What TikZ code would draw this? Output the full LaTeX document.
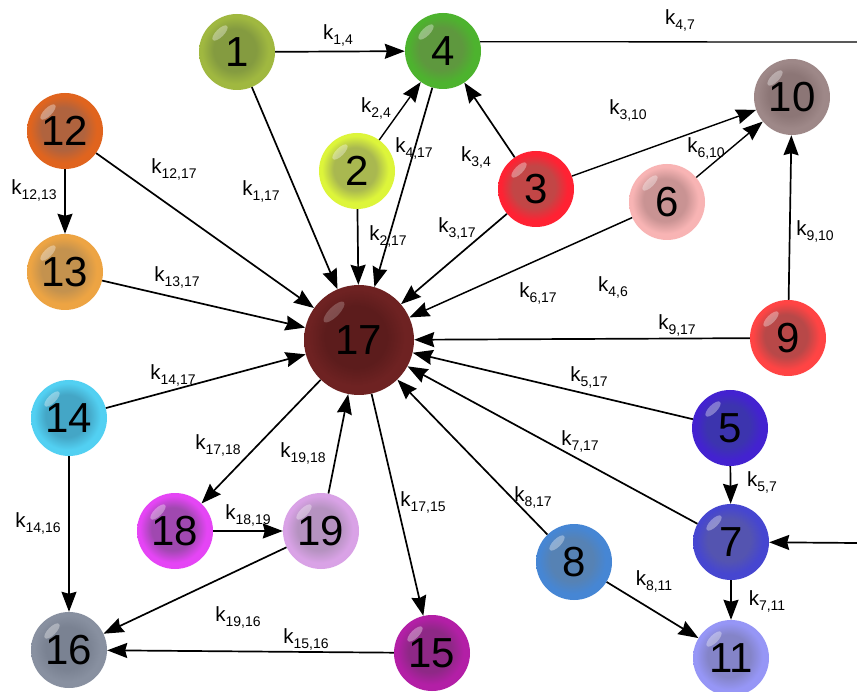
\documentclass[tikz,border=0pt]{standalone}
\usepackage{fontspec}
\setmainfont{Liberation Sans}
\usetikzlibrary{arrows.meta}
\pgfdeclareradialshading[ballin,ballout]{myball}{\pgfpoint{-2bp}{2bp}}{color(0bp)=(ballin); color(14bp)=(ballin); color(22bp)=(ballout); color(25bp)=(ballout); color(50bp)=(ballout)}
\newcommand{\ksub}[1]{k\raisebox{-5pt}{\fontsize{14}{14}\selectfont #1}}
\tikzset{
  ball/.style 2 args={circle, minimum size=76pt, inner sep=0pt, shade, shading=myball,
    /utils/exec={\definecolor{ballin}{HTML}{#1}\definecolor{ballout}{HTML}{#2}},
    font=\fontsize{42}{42}\selectfont,
    path picture={\fill[white,opacity=.35] ([xshift=-17pt,yshift=19pt]path picture bounding box.center) ellipse [x radius=10pt,y radius=4pt,rotate=45];}},
  bigball/.style 2 args={ball={#1}{#2}, minimum size=110pt,
    path picture={\fill[white,opacity=.22] ([xshift=-25pt,yshift=28pt]path picture bounding box.center) ellipse [x radius=14pt,y radius=5pt,rotate=45];}},
  lab/.style={font=\fontsize{20.5}{24}\selectfont, inner sep=0pt},
  arr/.style={-{Stealth[length=20pt,width=15pt,inset=2pt]}, line width=1.7pt},
  plain/.style={line width=1.3pt},
}
\begin{document}
\begin{tikzpicture}[x=1pt,y=1pt]
\fill[white] (0,0) rectangle (857,-692);
\useasboundingbox (0,0) rectangle (857,-692);
% nodes
\node[ball={849B40}{A0B840}] (1) at (237,-52) {1};
\node[ball={5E983E}{4DB32E}] (4) at (443,-51) {4};
\node[ball={A9B850}{DDF53A}] (2) at (357,-171) {2};
\node[ball={C24646}{FF2233}] (3) at (536,-189) {3};
\node[ball={8C7676}{9E8888}] (10) at (792,-97) {10};
\node[ball={C99393}{F8B4B4}] (6) at (667,-202) {6};
\node[ball={B84848}{FF4444}] (9) at (788,-338) {9};
\node[ball={B0633E}{E0641E}] (12) at (65,-131) {12};
\node[ball={C4924E}{EDA443}] (13) at (65,-272) {13};
\node[bigball={5C1C1C}{6E2222}] (17) at (359,-340) {17};
\node[ball={44A6C6}{52D0F2}] (14) at (69,-418) {14};
\node[ball={A048B0}{E545F5}] (18) at (175,-531) {18};
\node[ball={B592C0}{D9A2E6}] (19) at (321,-531) {19};
\node[ball={7A8292}{8890A0}] (16) at (69,-650) {16};
\node[ball={8E2886}{B31FA6}] (15) at (432,-653) {15};
\node[ball={3C34AE}{4322D0}] (5) at (730,-428) {5};
\node[ball={5454B0}{4646D0}] (7) at (731,-542) {7};
\node[ball={5682B4}{4686D4}] (8) at (574,-562) {8};
\node[ball={8484C8}{9696F6}] (11) at (731,-658) {11};
\coordinate (r47a) at (857,-42);
\coordinate (r47b) at (857,-543);
% edges
\draw[arr] (1) -- (4);
\draw[plain] (4.14) -- (r47a);
\draw[arr] (r47b) -- (7);
\draw[arr,line width=1.4pt] (2) -- (4);
\draw[arr] (3) -- (4);
\draw[arr] (4) -- (17);
\draw[arr] (1) -- (17);
\draw[arr] (2) -- (17);
\draw[arr] (3) -- (17);
\draw[arr,line width=1.4pt] (3) -- (10);
\draw[arr,line width=1.4pt] (6) -- (10);
\draw[arr,line width=1.5pt] (6) -- (17);
\draw[arr] (9) -- (10);
\draw[arr] (9) -- (17);
\draw[arr] (12) -- (13);
\draw[arr] (12) -- (17);
\draw[arr] (13) -- (17);
\draw[arr] (14) -- (17);
\draw[arr] (14) -- (16);
\draw[arr] (17) -- (18);
\draw[arr] (19) -- (17);
\draw[arr] (18) -- (19);
\draw[arr] (19) -- (16);
\draw[arr] (17) -- (15);
\draw[arr] (15) -- (16);
\draw[arr] (5) -- (17);
\draw[arr] (7) -- (17);
\draw[arr] (8) -- (17);
\draw[arr] (5) -- (7);
\draw[arr] (7) -- (11);
\draw[arr] (8) -- (11);
% labels
\node[lab] (l14) at (338,-35) {\ksub{1,4}};
\node[lab] (l47) at (680,-20) {\ksub{4,7}};
\node[lab] (l24) at (376,-108) {\ksub{2,4}};
\node[lab] (l417) at (414,-148) {\ksub{4,17}};
\node[lab] (l34) at (476,-157) {\ksub{3,4}};
\node[lab] (l117) at (261,-191) {\ksub{1,17}};
\node[lab] (l1217) at (174,-169) {\ksub{12,17}};
\node[lab] (l1213) at (34,-190) {\ksub{12,13}};
\node[lab] (l217) at (388,-236) {\ksub{2,17}};
\node[lab] (l317) at (457,-228) {\ksub{3,17}};
\node[lab] (l310) at (628,-110) {\ksub{3,10}};
\node[lab] (l610) at (706,-148) {\ksub{6,10}};
\node[lab] (l910) at (815,-231) {\ksub{9,10}};
\node[lab] (l46) at (613,-287) {\ksub{4,6}};
\node[lab] (l617) at (538,-293) {\ksub{6,17}};
\node[lab] (l917) at (677,-325) {\ksub{9,17}};
\node[lab] (l1317) at (177,-277) {\ksub{13,17}};
\node[lab] (l1417) at (173,-375) {\ksub{14,17}};
\node[lab] (l517) at (589,-377) {\ksub{5,17}};
\node[lab] (l717) at (580,-441) {\ksub{7,17}};
\node[lab] (l817) at (533,-497) {\ksub{8,17}};
\node[lab] (l57) at (762,-482) {\ksub{5,7}};
\node[lab] (l711) at (767,-601) {\ksub{7,11}};
\node[lab] (l811) at (654,-581) {\ksub{8,11}};
\node[lab] (l1718) at (218,-445) {\ksub{17,18}};
\node[lab] (l1918) at (303,-453) {\ksub{19,18}};
\node[lab] (l1819) at (248,-515) {\ksub{18,19}};
\node[lab] (l1715) at (423,-502) {\ksub{17,15}};
\node[lab] (l1416) at (38,-523) {\ksub{14,16}};
\node[lab] (l1916) at (238,-617) {\ksub{19,16}};
\node[lab] (l1516) at (306,-639) {\ksub{15,16}};
\end{tikzpicture}
\end{document}
